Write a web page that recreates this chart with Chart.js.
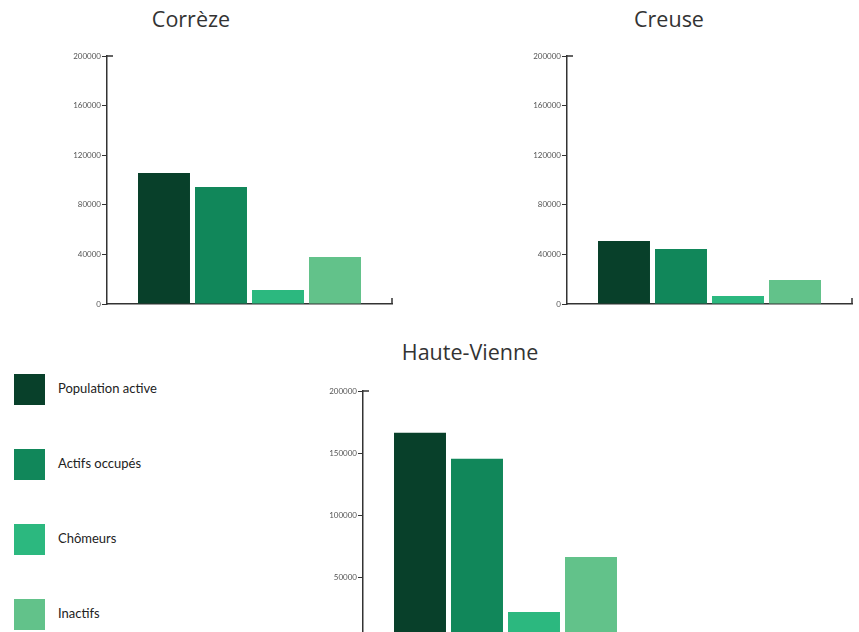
<!DOCTYPE html>
<html>
<head>
<meta charset="utf-8">
<script src="https://cdn.jsdelivr.net/npm/chart.js@4"></script>
<style>
    html, body { margin: 0; padding: 0; overflow: hidden; background: #fff; }
    #page { position: relative; width: 859px; height: 700px; }
    .box { position: absolute; width: 360px; height: 280px; }
    .title { position: absolute; font-family: "Open Sans", sans-serif; font-size: 21.5px; color: #333; transform: translateX(-50%); white-space: nowrap; }
    .legend-item { position: absolute; left: 14px; height: 31px; display: flex; align-items: center; font-family: Lato, sans-serif; font-size: 13px; color: #222; }
    .legend-item span.txt { position: relative; top: -2px; }
    .legend-item span.sw { width: 31px; height: 31px; margin-right: 13px; display: inline-block; }
</style>
</head>
<body>
<div id="page">
    <div class="title" style="left:191px; top:4px;">Corrèze</div>
    <div class="title" style="left:669px; top:4px;">Creuse</div>
    <div class="title" style="left:470px; top:337px;">Haute-Vienne</div>
    <div class="box" style="left:40px; top:40px;"><canvas id="chartCorreze"></canvas></div>
    <div class="box" style="left:500px; top:40px;"><canvas id="chartCreuse"></canvas></div>
    <div class="box" style="left:296px; top:375px;"><canvas id="chartHauteVienne"></canvas></div>
    <div id="legend"></div>
</div>
<script>
// Data
const categories = ['Emploi'];
const seriesNames = ['Population active', 'Actifs occupés', 'Chômeurs', 'Inactifs'];
const seriesColors = ['#08402a', '#11875a', '#2cb87f', '#62c28a'];
const correzeValues = [105600, 94400, 11300, 37900];
const creuseValues = [50800, 44400, 6500, 19400];
const hauteVienneValues = [166400, 145400, 21800, 66200];
const yMax = 200000;
const smallStep = 40000;
const bigStep = 50000;

// small caps at the top of the y axis and right end of the x axis
const axisCaps = {
    id: 'axisCaps',
    afterDraw(chart) {
        const a = chart.chartArea;
        const ctx = chart.ctx;
        ctx.save();
        ctx.strokeStyle = '#333';
        ctx.lineWidth = 1.5;
        ctx.beginPath();
        ctx.moveTo(a.left, a.top);
        ctx.lineTo(a.left + 6, a.top);
        ctx.moveTo(a.right, a.bottom);
        ctx.lineTo(a.right, a.bottom - 6);
        ctx.stroke();
        ctx.restore();
    }
};

function prepareChartData(values) {
    return {
        labels: categories,
        datasets: seriesNames.map((name, i) => ({
            label: name,
            data: [values[i]],
            backgroundColor: seriesColors[i],
            borderWidth: 0,
            categoryPercentage: 0.8,
            barPercentage: 0.912
        }))
    };
}

function getChartOptions(step) {
    return {
        responsive: true,
        maintainAspectRatio: false,
        animation: false,
        layout: { padding: { top: 16, right: 8, bottom: 8, left: 0 } },
        scales: {
            x: {
                ticks: { display: false },
                grid: { display: false },
                border: { display: true, color: '#333', width: 1.5 }
            },
            y: {
                min: 0,
                max: yMax,
                afterFit(scale) { scale.width = 67; },
                ticks: {
                    stepSize: step,
                    padding: 1,
                    color: '#555',
                    font: { family: 'Lato', size: 8 },
                    callback: v => String(v)
                },
                grid: { drawOnChartArea: false, drawTicks: true, tickLength: 5, color: '#333' },
                border: { display: true, color: '#333', width: 1.5 }
            }
        },
        plugins: {
            legend: { display: false },
            tooltip: { enabled: false }
        }
    };
}

function createChart(id, values, step) {
    const ctx = document.getElementById(id).getContext('2d');
    new Chart(ctx, {
        type: 'bar',
        data: prepareChartData(values),
        options: getChartOptions(step),
        plugins: [axisCaps]
    });
}

function buildLegend() {
    const legend = document.getElementById('legend');
    seriesNames.forEach((name, i) => {
        const item = document.createElement('div');
        item.className = 'legend-item';
        item.style.top = (374 + i * 75) + 'px';
        item.innerHTML = '<span class="sw" style="background:' + seriesColors[i] + '"></span><span class="txt">' + name + '</span>';
        legend.appendChild(item);
    });
}

window.onload = function() {
    createChart('chartCorreze', correzeValues, smallStep);
    createChart('chartCreuse', creuseValues, smallStep);
    createChart('chartHauteVienne', hauteVienneValues, bigStep);
    buildLegend();
};
</script>
</body>
</html>
